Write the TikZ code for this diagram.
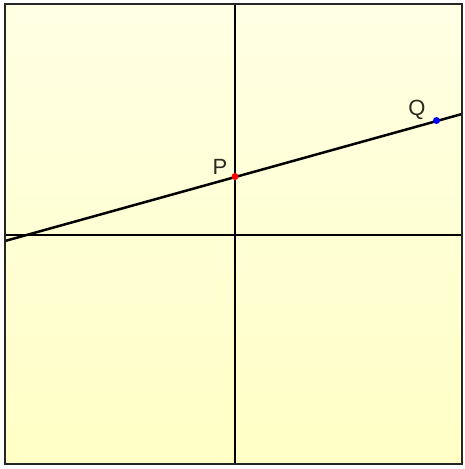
\documentclass[tikz,border=0pt]{standalone}
\usepackage{fontspec}
\setmainfont{Liberation Sans}
\definecolor{bgtop}{HTML}{FFFFE4}
\definecolor{bgbot}{HTML}{FFFFC6}
\definecolor{labcol}{HTML}{2A2A1E}
\begin{document}
\begin{tikzpicture}[x=1pt,y=-1pt,
  axis/.style={line width=2.5pt,black},
  pt/.style={circle,inner sep=0pt,minimum size=7pt},
  lab/.style={font=\fontsize{22}{22}\selectfont,text=labcol,inner sep=0pt}]
\useasboundingbox (0,0) rectangle (464,469);
\fill[white] (0,0) rectangle (464,469);
\shade[top color=bgtop,bottom color=bgbot] (5,4) rectangle (462,464);
\coordinate (L) at (5,241);
\coordinate (R) at (462,114);
\coordinate (VT) at (235,4);
\coordinate (VB) at (235,464);
\coordinate (HL) at (5,235);
\coordinate (HR) at (462,235);
\draw[axis] (VT) -- (VB);
\draw[axis] (HL) -- (HR);
\draw[axis] (L) -- (R);
\node[pt,fill=red] (P) at (235,176.5) {};
\node[pt,fill=blue] (Q) at (436.5,120.5) {};
\node[lab] (Plab) at (220,167) {P};
\node[lab] (Qlab) at (417,110) {Q};
\draw[line width=2.6pt,black!85] (5,4) rectangle (462,464);
\end{tikzpicture}
\end{document}
